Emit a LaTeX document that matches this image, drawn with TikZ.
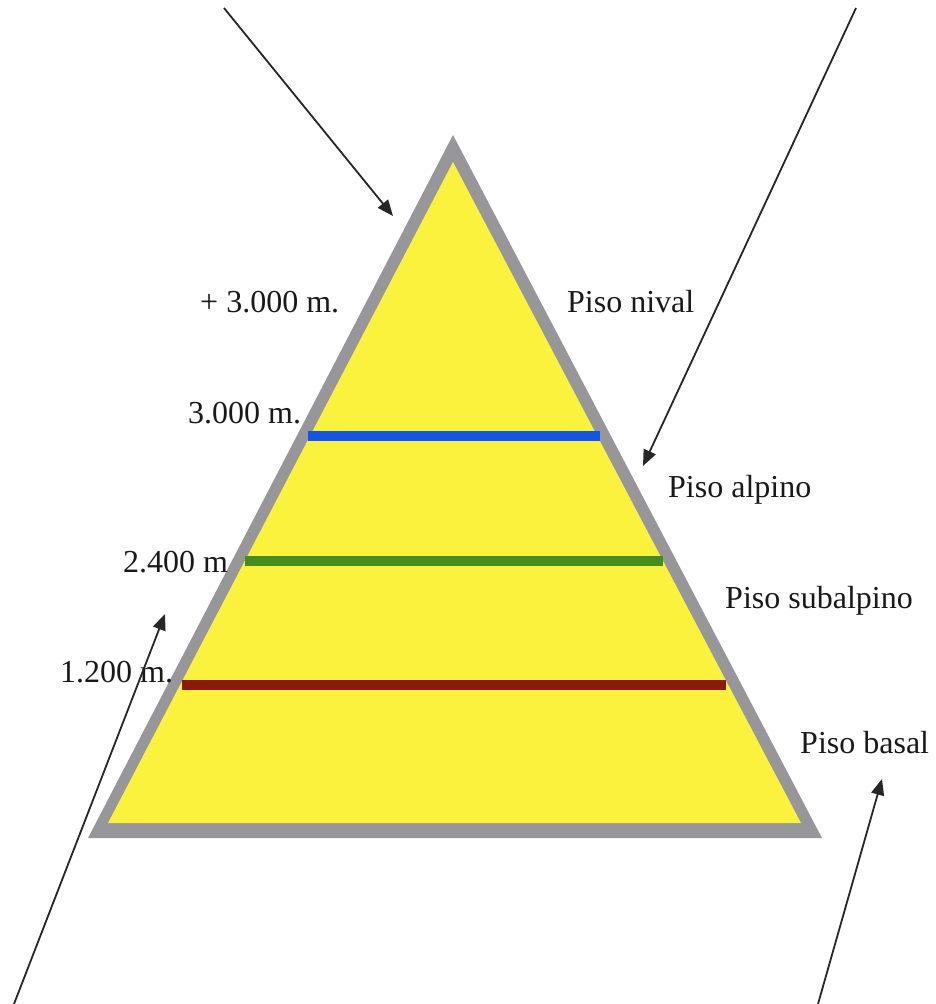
\documentclass[tikz,border=0pt]{standalone}
\usepackage{fontspec}
\setmainfont{Liberation Serif}
\usetikzlibrary{arrows.meta}
\definecolor{rim}{RGB}{150,150,155}
\definecolor{fillyel}{RGB}{250,242,60}
\definecolor{lblue}{RGB}{20,85,230}
\definecolor{lgreen}{RGB}{70,140,30}
\definecolor{lred}{RGB}{140,28,10}
\tikzset{
  lbl/.style={anchor=base west, inner sep=0pt, font=\fontsize{32}{37}\selectfont, text=black!90},
  pointer/.style={line width=1.8pt, black!85, -{Triangle[length=16pt,width=13pt]}},
  band/.style={line width=10pt}
}
\begin{document}
\begin{tikzpicture}[x=1pt,y=-1pt]
\useasboundingbox (0,0) rectangle (935,1004);
% mountain
\fill[rim] (453,135) -- (88,838) -- (822,838) -- cycle;
\fill[fillyel] (453,162) -- (108,823) -- (801,823) -- cycle;
% altitude bands
\draw[band, lblue] (308,436) -- (600,436);
\draw[band, lgreen] (245,561) -- (663,561);
\draw[band, lred] (182,685) -- (726,685);
% labels
\node[lbl] (t1) at (200,312) {+ 3.000 m.};
\node[lbl] (t2) at (567,312) {Piso nival};
\node[lbl] (t3) at (188,423) {3.000 m.};
\node[lbl] (t4) at (668,497) {Piso alpino};
\node[lbl] (t5) at (123,572) {2.400 m};
\node[lbl] (t6) at (725,608) {Piso subalpino};
\node[lbl] (t7) at (60,682) {1.200 m.};
\node[lbl] (t8) at (800,753) {Piso basal};
% arrows
\coordinate (a1s) at (224,8);   \coordinate (a1e) at (393,216);
\coordinate (a2s) at (856,8);   \coordinate (a2e) at (643,466);
\coordinate (a3s) at (14,1004); \coordinate (a3e) at (165,614);
\coordinate (a4s) at (818,1004);\coordinate (a4e) at (882,779);
\draw[pointer] (a1s) -- (a1e);
\draw[pointer] (a2s) -- (a2e);
\draw[pointer] (a3s) -- (a3e);
\draw[pointer] (a4s) -- (a4e);
\end{tikzpicture}
\end{document}
